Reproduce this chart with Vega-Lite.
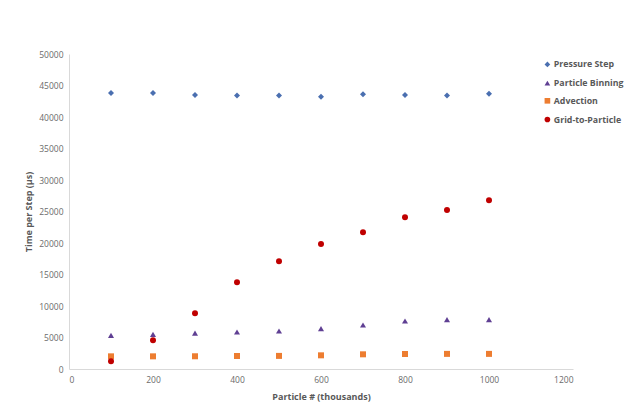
{
  "$schema": "https://vega.github.io/schema/vega-lite/v6.json",
  "autosize": {"type": "none"},
  "padding": {"left": 69, "top": 54, "right": 58, "bottom": 39},
  "width": 504,
  "height": 315,
  "background": "white",
  "config": {
    "view": {"stroke": null},
    "font": "Open Sans",
    "axis": {"labelFont": "Open Sans", "titleFont": "Open Sans", "labelColor": "#6b6b6b", "titleColor": "#595959", "labelFontSize": 8.5, "titleFontSize": 9, "titleFontWeight": "bold", "grid": false, "ticks": false, "domainColor": "#d9d9d9", "labelPadding": 6}
  },
  "data": {
    "values": [
      {"x": 100, "series": "Pressure Step", "y": 43800},
      {"x": 200, "series": "Pressure Step", "y": 43800},
      {"x": 300, "series": "Pressure Step", "y": 43500},
      {"x": 400, "series": "Pressure Step", "y": 43400},
      {"x": 500, "series": "Pressure Step", "y": 43400},
      {"x": 600, "series": "Pressure Step", "y": 43200},
      {"x": 700, "series": "Pressure Step", "y": 43600},
      {"x": 800, "series": "Pressure Step", "y": 43500},
      {"x": 900, "series": "Pressure Step", "y": 43400},
      {"x": 1000, "series": "Pressure Step", "y": 43700},
      {"x": 100, "series": "Particle Binning", "y": 5350},
      {"x": 200, "series": "Particle Binning", "y": 5500},
      {"x": 300, "series": "Particle Binning", "y": 5710},
      {"x": 400, "series": "Particle Binning", "y": 5870},
      {"x": 500, "series": "Particle Binning", "y": 6030},
      {"x": 600, "series": "Particle Binning", "y": 6400},
      {"x": 700, "series": "Particle Binning", "y": 6980},
      {"x": 800, "series": "Particle Binning", "y": 7620},
      {"x": 900, "series": "Particle Binning", "y": 7830},
      {"x": 1000, "series": "Particle Binning", "y": 7830},
      {"x": 100, "series": "Advection", "y": 2010},
      {"x": 200, "series": "Advection", "y": 2010},
      {"x": 300, "series": "Advection", "y": 2020},
      {"x": 400, "series": "Advection", "y": 2060},
      {"x": 500, "series": "Advection", "y": 2080},
      {"x": 600, "series": "Advection", "y": 2170},
      {"x": 700, "series": "Advection", "y": 2330},
      {"x": 800, "series": "Advection", "y": 2380},
      {"x": 900, "series": "Advection", "y": 2400},
      {"x": 1000, "series": "Advection", "y": 2400},
      {"x": 100, "series": "Grid-to-Particle", "y": 1220},
      {"x": 200, "series": "Grid-to-Particle", "y": 4550},
      {"x": 300, "series": "Grid-to-Particle", "y": 8840},
      {"x": 400, "series": "Grid-to-Particle", "y": 13760},
      {"x": 500, "series": "Grid-to-Particle", "y": 17090},
      {"x": 600, "series": "Grid-to-Particle", "y": 19840},
      {"x": 700, "series": "Grid-to-Particle", "y": 21700},
      {"x": 800, "series": "Grid-to-Particle", "y": 24100},
      {"x": 900, "series": "Grid-to-Particle", "y": 25240},
      {"x": 1000, "series": "Grid-to-Particle", "y": 26800}
    ]
  },
  "mark": {"type": "point", "filled": true, "opacity": 1, "size": 36},
  "encoding": {
    "x": {"field": "x", "type": "quantitative", "title": "Particle # (thousands)", "scale": {"domain": [0, 1200], "nice": false}, "axis": {"values": [0, 200, 400, 600, 800, 1000, 1200], "format": "d", "titlePadding": 9}},
    "y": {"field": "y", "type": "quantitative", "title": "Time per Step (µs)", "scale": {"domain": [0, 50000], "nice": false}, "axis": {"values": [0, 5000, 10000, 15000, 20000, 25000, 30000, 35000, 40000, 45000, 50000], "format": "d", "titlePadding": 5}},
    "color": {"field": "series", "type": "nominal", "title": null,
      "scale": {"domain": ["Pressure Step", "Particle Binning", "Advection", "Grid-to-Particle"], "range": ["#4a6fb0", "#5f3f93", "#ed7d31", "#c00000"]},
      "legend": {"orient": "none", "legendX": 474, "legendY": 6, "labelFont": "Open Sans", "labelFontSize": 8.8, "labelFontWeight": "bold", "labelColor": "#595959", "symbolSize": 32, "rowPadding": 5.7, "labelOffset": 2, "symbolOpacity": 1}},
    "shape": {"field": "series", "type": "nominal",
      "scale": {"domain": ["Pressure Step", "Particle Binning", "Advection", "Grid-to-Particle"], "range": ["diamond", "triangle-up", "square", "circle"]}}
  }
}
